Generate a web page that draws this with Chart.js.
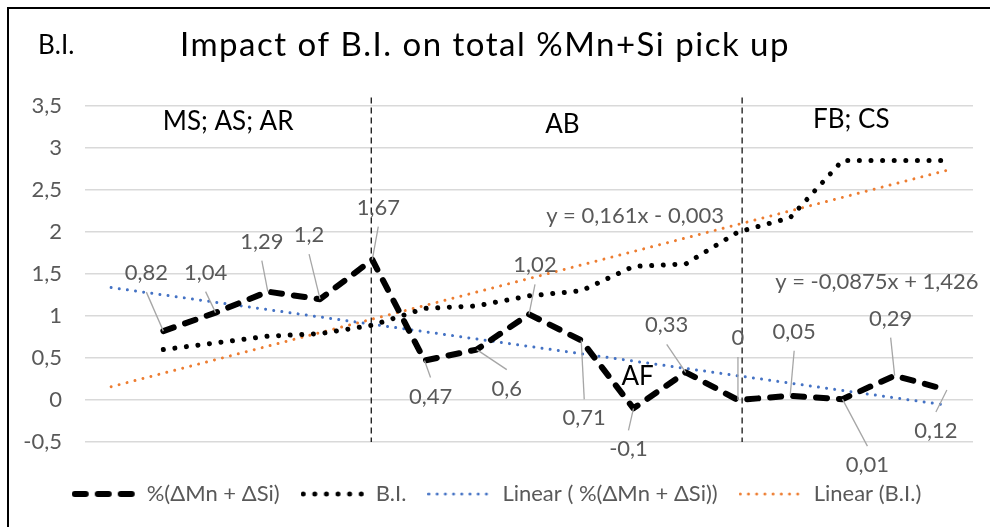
<!DOCTYPE html>
<html>
<head>
<meta charset="utf-8">
<script src="https://cdn.jsdelivr.net/npm/chart.js@4.4.1/dist/chart.umd.min.js"></script>
<style>
  html, body { margin: 0; padding: 0; background: #fff; }
  canvas { display: block; }
</style>
</head>
<body>
<canvas id="myChart" width="990" height="527"></canvas>
<script>
// 17 positions on the x axis, the first one has no reading
const categories = ['', '', '', '', '', '', '', '', '', '', '', '', '', '', '', '', ''];
const pickUp = [null, 0.82, 1.04, 1.29, 1.2, 1.67, 0.47, 0.6, 1.02, 0.71, -0.1, 0.33, 0, 0.05, 0.01, 0.29, 0.12];
const basicity = [null, 0.6, 0.68, 0.76, 0.79, 0.89, 1.09, 1.12, 1.24, 1.3, 1.59, 1.62, 2.0, 2.17, 2.85, 2.85, 2.85];

// trend lines as printed on the chart: [slope, intercept]
const pickUpFit = [-0.0875, 1.426];
const basicityFit = [0.161, -0.003];

const yRange = [-0.5, 3.5];
const yStep = 0.5;

const seriesNames = ['%(ΔMn + ΔSi)', 'B.I.', 'Linear ( %(ΔMn + ΔSi))', 'Linear (B.I.)'];
const regionNames = ['MS; AS; AR', 'AB', 'FB; CS'];
const dividerAt = [4.98, 12.08];

// label placement (px offsets from the point)
const labelOffsets = [null, [-17, -58], [-10, -40], [-6, -50], [-11, -64], [6, -52], [6, 36], [30, 39], [6, -49],
  [3, 78], [-5, 41], [-19, -47], [0, -62], [4, -64], [25, 66], [-4, -57], [-11, 41]];

const comma = v => String(v).replace('.', ',');

function fitLine(fit) {
    // only the two end points, x = 1 and x = 17
    var out = categories.map(() => null);
    out[0] = fit[0] * 1 + fit[1];
    out[categories.length - 1] = fit[0] * categories.length + fit[1];
    return out;
}

function sample(color, width, dash, from, to) {
    var c = document.createElement('canvas');
    c.width = 64; c.height = 12;
    var g = c.getContext('2d');
    g.strokeStyle = color; g.lineWidth = width; g.lineCap = 'round';
    g.setLineDash(dash);
    g.beginPath(); g.moveTo(from, 6); g.lineTo(to, 6); g.stroke();
    return c;
}
const legendSamples = [
    sample('#000', 6, [11, 12], 3, 61),
    sample('#000', 5, [0.01, 11.6], 2.5, 62),
    sample('#4472c4', 3, [0.01, 8.2], 1.5, 62.5),
    sample('#ed7d31', 3, [0.01, 8.2], 1.5, 62.5)
];

Chart.defaults.font.family = 'Lato';

const notes = {
    id: 'notes',
    beforeDatasetsDraw(chart) {
        const { ctx, scales: { x, y } } = chart;
        ctx.save();
        ctx.strokeStyle = '#000';
        ctx.lineWidth = 1.2;
        ctx.setLineDash([6, 4]);
        dividerAt.forEach(function (v) {
            var px = x.getPixelForValue(v);
            ctx.beginPath();
            ctx.moveTo(px, y.getPixelForValue(3.6));
            ctx.lineTo(px, y.getPixelForValue(yRange[0]));
            ctx.stroke();
        });
        ctx.restore();
    },
    afterDatasetsDraw(chart) {
        const { ctx, scales: { x, y } } = chart;
        const meta = chart.getDatasetMeta(0);
        ctx.save();
        ctx.textAlign = 'center';
        ctx.textBaseline = 'middle';

        // leader lines + value labels
        meta.data.forEach(function (pt, i) {
            if (pickUp[i] === null) return;
            var off = labelOffsets[i];
            var cx = pt.x + off[0], cy = pt.y + off[1];
            ctx.strokeStyle = '#a6a6a6';
            ctx.lineWidth = 1.3;
            ctx.beginPath();
            ctx.moveTo(pt.x, pt.y);
            ctx.lineTo(cx, cy + (off[1] > 0 ? -19 : 19));
            ctx.stroke();
            ctx.fillStyle = '#595959';
            ctx.font = '22px Lato';
            ctx.fillText(comma(pickUp[i]), cx, cy);
        });

        // zone names
        ctx.fillStyle = '#000';
        ctx.font = '26px Lato';
        ctx.fillText(regionNames[0], x.getPixelForValue(2.24), y.getPixelForValue(3.32));
        ctx.fillText(regionNames[1], x.getPixelForValue(8.64), y.getPixelForValue(3.28));
        ctx.fillText(regionNames[2], x.getPixelForValue(14.17), y.getPixelForValue(3.34));
        ctx.fillText('AF', x.getPixelForValue(10.08), y.getPixelForValue(0.275));

        // trend equations
        ctx.fillStyle = '#595959';
        ctx.font = '22px Lato';
        ctx.fillText('y = ' + comma(basicityFit[0]) + 'x - ' + comma(-basicityFit[1]),
            x.getPixelForValue(10.03), y.getPixelForValue(2.19));
        ctx.fillText('y = ' + comma(pickUpFit[0]) + 'x + ' + comma(pickUpFit[1]),
            x.getPixelForValue(14.66), y.getPixelForValue(1.40));
        ctx.restore();
    },
    afterDraw(chart) {
        const ctx = chart.ctx;
        ctx.save();
        ctx.strokeStyle = '#000';
        ctx.lineWidth = 2;
        ctx.beginPath();
        ctx.moveTo(8, chart.height);
        ctx.lineTo(8, 8);
        ctx.lineTo(chart.width, 8);
        ctx.stroke();

        ctx.fillStyle = '#000';
        ctx.textBaseline = 'middle';
        ctx.textAlign = 'center';
        ctx.font = '33px Lato';
        ctx.letterSpacing = '1.5px';
        ctx.fillText('Impact of B.I. on total %Mn+Si pick up', 485, 45);
        ctx.letterSpacing = '0px';
        ctx.textAlign = 'left';
        ctx.font = '26px Lato';
        ctx.fillText('B.I.', 38, 46);
        ctx.restore();
    }
};

const ctx = document.getElementById('myChart');

var lineChart = new Chart(ctx, {
    type: 'line',
    data: {
        labels: categories,
        datasets: [{
            label: seriesNames[0],
            data: pickUp,
            borderColor: '#000',
            borderWidth: 6,
            borderDash: [11, 12],
            borderCapStyle: 'round',
            borderJoinStyle: 'round',
            pointRadius: 0,
            tension: 0
        }, {
            label: seriesNames[1],
            data: basicity,
            borderColor: '#000',
            borderWidth: 5,
            borderDash: [0.01, 11.6],
            borderCapStyle: 'round',
            pointRadius: 0,
            tension: 0
        }, {
            label: seriesNames[2],
            data: fitLine(pickUpFit),
            borderColor: '#4472c4',
            borderWidth: 3,
            borderDash: [0.01, 8.2],
            borderCapStyle: 'round',
            pointRadius: 0,
            spanGaps: true
        }, {
            label: seriesNames[3],
            data: fitLine(basicityFit),
            borderColor: '#ed7d31',
            borderWidth: 3,
            borderDash: [0.01, 8.2],
            borderCapStyle: 'round',
            pointRadius: 0,
            spanGaps: true
        }]
    },
    options: {
        responsive: false,
        animation: false,
        devicePixelRatio: 1,
        layout: { padding: { top: 106, left: 20, right: 17, bottom: 12 } },
        scales: {
            x: {
                offset: true,
                grid: { display: false },
                border: { display: false },
                ticks: { display: false },
                afterFit: function (s) { s.height = 20; }
            },
            y: {
                min: yRange[0],
                max: yRange[1],
                grid: { color: '#d9d9d9', lineWidth: 1.5, drawTicks: false },
                border: { display: false },
                ticks: {
                    stepSize: yStep,
                    padding: 23,
                    color: '#595959',
                    font: { size: 22 },
                    callback: v => comma(v)
                },
                afterFit: function (s) { s.width = 65; }
            }
        },
        plugins: {
            tooltip: { enabled: false },
            title: { display: false },
            legend: {
                position: 'bottom',
                labels: {
                    usePointStyle: true,
                    pointStyleWidth: 64,
                    padding: 21,
                    color: '#595959',
                    font: { size: 22 },
                    generateLabels: function (chart) {
                        var items = Chart.defaults.plugins.legend.labels.generateLabels(chart);
                        items.forEach(function (it, i) { it.pointStyle = legendSamples[i]; });
                        return items;
                    }
                }
            }
        }
    },
    plugins: [notes]
});
</script>
</body>
</html>
